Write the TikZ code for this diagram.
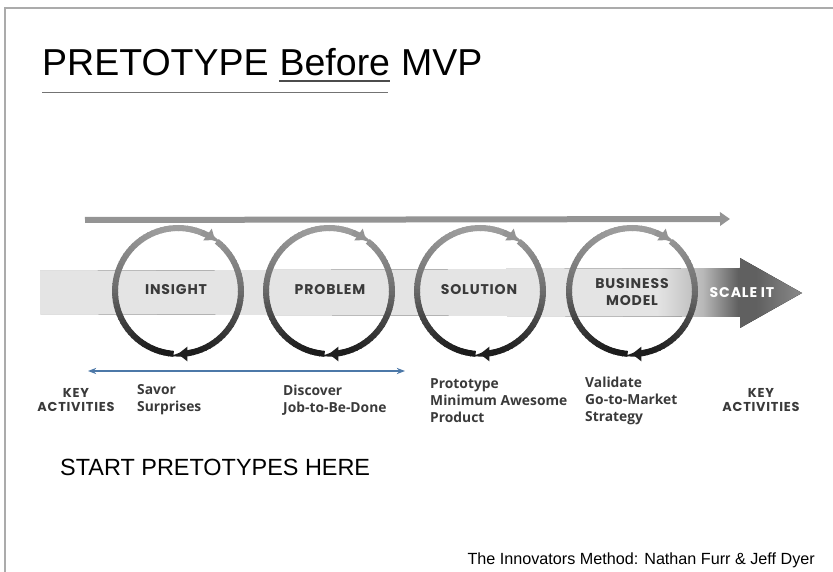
\documentclass[tikz,border=0pt]{standalone}
\usepackage{fontspec}
\setmainfont{Liberation Sans}
\newfontfamily\stagefont[LetterSpace=6]{Poppins}
\newfontfamily\notefont{Open Sans}
\usetikzlibrary{arrows.meta, positioning}

\definecolor{bandlight}{HTML}{E4E4E4}
\definecolor{bandmid}{HTML}{B8B8B8}
\definecolor{banddark}{HTML}{606060}
\definecolor{bandtip}{HTML}{8A8A8A}
\definecolor{spanblue}{HTML}{4C78A8}
\definecolor{labelgray}{HTML}{3A3A3A}
\definecolor{framegray}{HTML}{ABABAB}

% light band that darkens into the arrow head
\pgfdeclarehorizontalshading{bandfade}{100bp}{color(0bp)=(bandlight); color(65.5bp)=(bandlight); color(68.5bp)=(bandmid); color(70.8bp)=(banddark); color(72bp)=(banddark); color(75bp)=(bandtip); color(100bp)=(bandtip)}

\tikzset{
  ring/.style={line width=0.18cm},
  ringtip/.style={ring, -{Triangle[width=0.42cm,length=0.28cm]}},
  stage/.style={font=\stagefont\bfseries\fontsize{12}{14}\selectfont, text=labelgray, align=center},
  keyact/.style={font=\stagefont\bfseries\fontsize{11}{12.5}\selectfont, text=labelgray, align=center},
  activity/.style={font=\notefont\bfseries\fontsize{11.8}{14.5}\selectfont, text=labelgray, align=left, anchor=west, inner sep=0pt},
  titletext/.style={font=\fontsize{32}{38}\selectfont, inner sep=0pt},
}

\newcommand\ringr{1.89cm}
% one loop of the coil around the band, centred at x = #1
\newcommand\coil[1]{%
  \foreach \a [evaluate=\a as \p using 58-(sin(\a)>0?20:32)*sin(\a)] in {-94,-98,...,-290}
    \draw[ring, black!\p] ([shift={(#1,-291)}]\a:\ringr) arc[start angle=\a, end angle=\a-5, radius=\ringr];
  \foreach \a [evaluate=\a as \p using 58-(sin(\a)>0?20:32)*sin(\a)] in {52,48,...,-76}
    \draw[ring, black!\p] ([shift={(#1,-291)}]\a:\ringr) arc[start angle=\a, end angle=\a-5, radius=\ringr];
  \draw[ringtip, black!88] ([shift={(#1,-291)}]-78:\ringr) arc[start angle=-78, end angle=-90, radius=\ringr];
  \draw[ringtip, black!42] ([shift={(#1,-291)}]-292:\ringr) arc[start angle=-292, end angle=-306, radius=\ringr];
}

\begin{document}
\begin{tikzpicture}[x=0.03cm, y=0.03cm]
  \useasboundingbox (0,0) rectangle (833,-572);

  % slide frame
  \draw[framegray, line width=1.2pt] (5,-572) -- (5,-8) -- (833,-8);

  % heading
  \node[titletext, anchor=base west] (pre) at (42,-76) {PRETOTYPE};
  \node[titletext, base right=9pt of pre] (bef) {Before};
  \node[titletext, base right=9pt of bef] (mvp) {MVP};
  \draw[black!70, line width=1.6pt] ([yshift=-4pt]bef.base west) -- ([yshift=-4pt]bef.base east);
  \draw[black!55, line width=0.8pt] (42,-92) -- (388,-92);

  % band and coil
  \fill[shading=bandfade] (40,-271) -- (740,-268) -- (740,-258) -- (802,-293) -- (740,-328) -- (740,-317) -- (40,-314) -- cycle;
  \coordinate (coilstart) at (85,-220);
  \coordinate (coilend) at (730,-219);
  \draw[black!42, line width=0.18cm, -{Triangle[width=0.4cm,length=0.3cm]}] (coilstart) -- (coilend);
  \coil{178}
  \coil{329}
  \coil{480}
  \coil{632}

  \node[stage] (insight) at (176,-290) {INSIGHT};
  \node[stage] (problem) at (330,-290) {PROBLEM};
  \node[stage] (solution) at (479,-290) {SOLUTION};
  \node[stage] (business) at (632,-292) {BUSINESS\\MODEL};
  \node[stage, text=white] (scale) at (742,-293) {SCALE IT};

  % activities under the band
  \coordinate (spanL) at (88,-371);
  \coordinate (spanR) at (405,-371);
  \draw[spanblue, line width=1.5pt, {Stealth[length=7pt]}-{Stealth[length=7pt]}] (spanL) -- (spanR);

  \node[keyact] (keyL) at (76,-400) {KEY\\ACTIVITIES};
  \node[activity] (savor) at (137,-400) {Savor\\Surprises};
  \node[activity] (discover) at (283,-400) {Discover\\Job-to-Be-Done};
  \node[activity] (proto) at (430,-401) {Prototype\\Minimum Awesome\\Product};
  \node[activity] (validate) at (585,-401) {Validate\\Go-to-Market\\Strategy};
  \node[keyact] (keyR) at (761,-400) {KEY\\ACTIVITIES};

  \node[font=\fontsize{20}{24}\selectfont, anchor=west, inner sep=0pt] (start) at (60,-467) {START PRETOTYPES HERE};
  \node[font=\fontsize{13.8}{16}\selectfont, anchor=east, inner sep=0pt] (source) at (815,-560) {The Innovators Method: Nathan Furr \& Jeff Dyer};
\end{tikzpicture}
\end{document}
